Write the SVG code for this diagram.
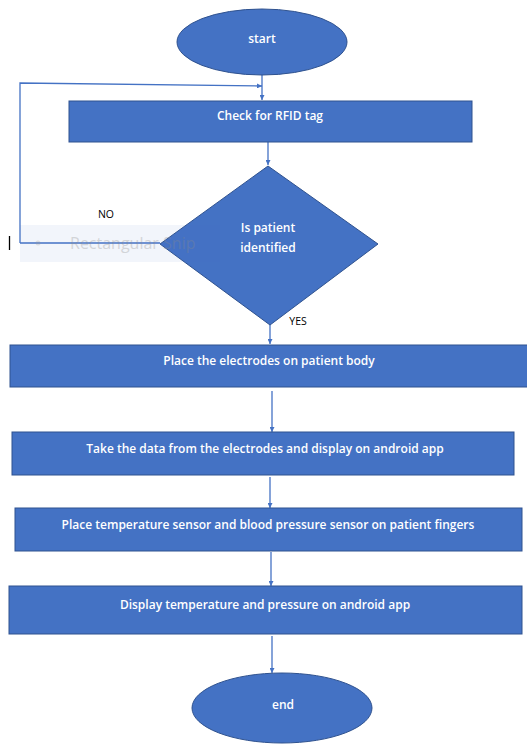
<svg xmlns="http://www.w3.org/2000/svg" width="527" height="744" viewBox="0 0 527 744">
<style>
.n{fill:#4472C4;stroke:#2F528F;stroke-width:1}
.t{fill:#ffffff;font-family:"Open Sans","Liberation Sans",sans-serif;font-size:12px;font-weight:600;text-anchor:middle}
.l{fill:#000000;font-family:"Open Sans","Liberation Sans",sans-serif;font-size:10.5px;text-anchor:middle}
.c{stroke:#4472C4;stroke-width:1.3;fill:none}
</style>
<defs>
<marker id="a" viewBox="0 0 6 6" refX="6" refY="3" markerWidth="5" markerHeight="5" orient="auto" markerUnits="userSpaceOnUse">
<path d="M0,0 L6,3 L0,6 Z" fill="#4472C4"/>
</marker>
</defs>
<g id="connectors">
<path class="c" d="M262,75 L262,100" marker-end="url(#a)"/>
<path class="c" d="M20,243 L20,83 L262,86" marker-end="url(#a)"/>
<path class="c" d="M20,243 L160,243"/>
<path class="c" d="M268,142 L268,165" marker-end="url(#a)"/>
<path class="c" d="M270,325 L270,344" marker-end="url(#a)"/>
<path class="c" d="M272,391 L272,432" marker-end="url(#a)"/>
<path class="c" d="M270,477 L270,508" marker-end="url(#a)"/>
<path class="c" d="M271,552 L271,586" marker-end="url(#a)"/>
<path class="c" d="M272,636 L272,673" marker-end="url(#a)"/>
</g>
<g id="start"><ellipse class="n" cx="262" cy="42" rx="85" ry="33"/><text class="t" x="262" y="43">start</text></g>
<g id="check"><rect class="n" x="69" y="101" width="403" height="41"/><text class="t" x="270" y="120">Check for RFID tag</text></g>
<g id="decision"><polygon class="n" points="268,166 378,244 270,325 160,244"/><text class="t" x="268" y="232">Is patient</text><text class="t" x="268" y="252">identified</text></g>
<g id="labels"><text class="l" x="106" y="218">NO</text><text class="l" x="298" y="325">YES</text></g>
<g id="electrodes"><rect class="n" x="10" y="345" width="520" height="42"/><text class="t" x="269" y="365">Place the electrodes on patient body</text></g>
<g id="takedata"><rect class="n" x="12" y="432" width="502" height="43"/><text class="t" x="265" y="453">Take the data from the electrodes and display on android app</text></g>
<g id="sensors"><rect class="n" x="15" y="508" width="507" height="43"/><text class="t" x="268" y="529">Place temperature sensor and blood pressure sensor on patient fingers</text></g>
<g id="display"><rect class="n" x="9" y="586" width="513" height="48"/><text class="t" x="265" y="609">Display temperature and pressure on android app</text></g>
<g id="end"><ellipse class="n" cx="282" cy="708" rx="90" ry="35"/><text class="t" x="283" y="709">end</text></g>
<g id="snip-ghost">
<rect x="20" y="225" width="200" height="37" fill="#4472C4" opacity="0.07"/>
<circle cx="38" cy="243" r="2.5" fill="#999" opacity="0.25"/>
<text x="70" y="249" font-family="'Open Sans','Liberation Sans',sans-serif" font-size="16" fill="#8a8a8a" opacity="0.3">Rectangular Snip</text>
<line x1="9.5" y1="236" x2="9.5" y2="250" stroke="#000" stroke-width="1.3"/>
</g>
</svg>
